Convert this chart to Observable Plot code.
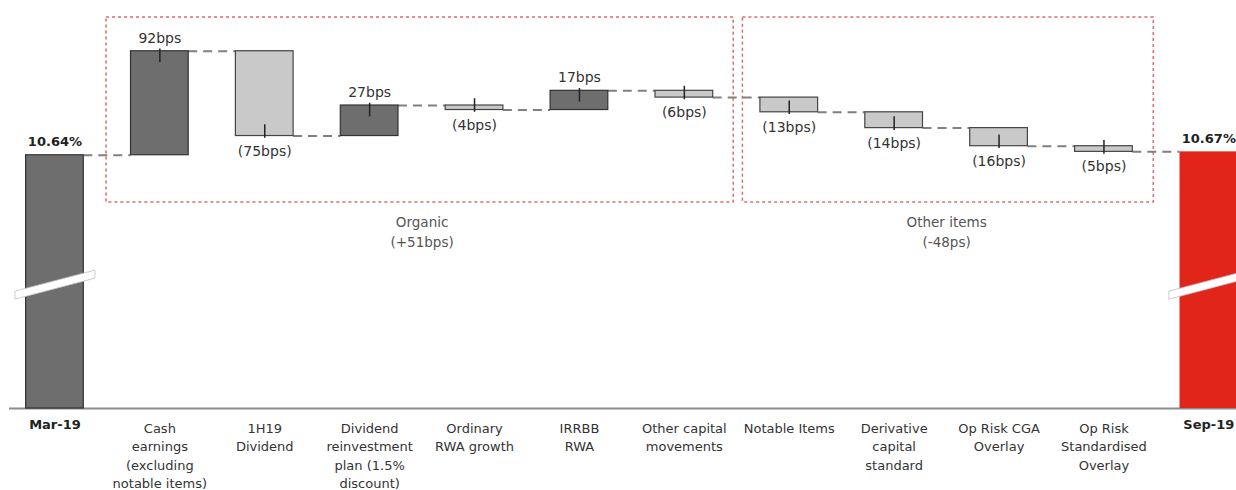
<!DOCTYPE html>
<html>
<head>
<meta charset="utf-8">
<script src="https://cdn.jsdelivr.net/npm/d3@7"></script>
<script src="https://cdn.jsdelivr.net/npm/@observablehq/plot@0.6"></script>
<style>
  body { margin: 0; background: #fff; }
  #chart svg { display: block; }
</style>
</head>
<body>
<div id="chart"></div>
<script>
// ---- data ----
const categories = [
  "Mar-19",
  "Cash\nearnings\n(excluding\nnotable items)",
  "1H19\nDividend",
  "Dividend\nreinvestment\nplan (1.5%\ndiscount)",
  "Ordinary\nRWA growth",
  "IRRBB\nRWA",
  "Other capital\nmovements",
  "Notable Items",
  "Derivative\ncapital\nstandard",
  "Op Risk CGA\nOverlay",
  "Op Risk\nStandardised\nOverlay",
  "Sep-19"
];
const startValue = 10.64;   // %
const endValue = 10.67;     // %
const startLabel = "10.64%";
const endLabel = "10.67%";
const changesBps = [92, -75, 27, -4, 17, -6, -13, -14, -16, -5];
const groupNames = ["Organic", "Other items"];
const groupTotals = ["(+51bps)", "(-48ps)"];
const groupFirst = [1, 7];
const groupLast = [6, 10];
const baseLevel = 8.4;    // broken-axis baseline (%)
const topLevel = 12.0;
const breakLevel = 9.5;   // where the axis-break slash sits

// ---- derived tables ----
const rows = [];
let level = startValue;
rows.push({cat: categories[0], kind: "start", y1: baseLevel, y2: startValue, level: startValue, label: startLabel});
changesBps.forEach((v, i) => {
  const from = level;
  level = Math.round((level + v / 100) * 10000) / 10000;
  rows.push({cat: categories[i + 1], kind: v > 0 ? "up" : "down", v, y1: from, y2: level, level,
             label: v > 0 ? `${v}bps` : `(${-v}bps)`});
});
rows.push({cat: categories[categories.length - 1], kind: "end", y1: baseLevel, y2: endValue, level: endValue, label: endLabel});
const changes = rows.filter(d => d.kind === "up" || d.kind === "down");
const totals = rows.filter(d => d.kind === "start" || d.kind === "end");
const connectors = rows.slice(0, -1).map((r, i) => ({from: r.cat, to: rows[i + 1].cat, y: r.level}));
const groups = groupNames.map((name, i) => ({name, total: groupTotals[i], first: groupFirst[i], last: groupLast[i]}));

// ---- layout ----
const W = 1236, H = 490;
const step = 104.9;
const r0 = 2;
const padIn = 0.45, padOut = 0.225;
const bw = step * (1 - padIn);
const boxInsets = [[-24.5, -20.5], [-17.5, -21]];  // [left, right] px for each group box

const slash = {
  draw(ctx) {
    ctx.moveTo(-40, 7);
    ctx.lineTo(40, -14);
    ctx.lineTo(40, -6);
    ctx.lineTo(-40, 15);
    ctx.closePath();
  }
};

const groupBoxes = groups.map((g, i) => Plot.rect([g], {
  x1: d => categories[d.first], x2: d => categories[d.last],
  insetTop: 16, insetBottom: 206, insetLeft: boxInsets[i][0], insetRight: boxInsets[i][1],
  fill: "none", stroke: "#e06a6a", strokeWidth: 1.5, strokeDasharray: "3,3"
}));

const groupMarks = groups.map(g => {
  const mid = (g.first + g.last) / 2;
  const anchor = Math.floor(mid);
  return Plot.text([g], {
    x: () => categories[anchor],
    dx: (mid - anchor) * step,
    frameAnchor: "top",
    dy: 211,
    lineAnchor: "top",
    text: d => d.name + "\n" + d.total,
    fontSize: 13.5,
    lineHeight: 1.48,
    fill: "#555"
  });
});

const chart = Plot.plot({
  width: W,
  height: H,
  marginTop: 1,
  marginBottom: 82,
  marginLeft: 9,
  marginRight: 0,
  style: {fontFamily: "DejaVu Sans", fontSize: "13px", color: "#333", background: "#fff"},
  x: {type: "band", domain: categories, range: [r0, r0 + categories.length * step], paddingInner: padIn, paddingOuter: padOut, round: false},
  y: {domain: [baseLevel, topLevel], axis: null},
  marks: [
    ...groupBoxes,
    Plot.ruleY([baseLevel], {stroke: "#8c8c8c", strokeWidth: 2}),
    Plot.ruleY(connectors, {
      x1: "from", x2: "to", y: "y", insetLeft: bw, insetRight: bw,
      stroke: "#808080", strokeWidth: 2, strokeDasharray: "9,6"
    }),
    Plot.barY(rows.filter(d => d.kind === "start" || d.kind === "up"), {
      x: "cat", y1: "y1", y2: "y2", fill: "#6e6e6e", stroke: "#333", strokeWidth: 1.2
    }),
    Plot.barY(rows.filter(d => d.kind === "down"), {
      x: "cat", y1: "y1", y2: "y2", fill: "#c9c9c9", stroke: "#444", strokeWidth: 1.2
    }),
    Plot.barY(rows.filter(d => d.kind === "end"), {
      x: "cat", y1: "y1", y2: "y2", fill: "#e1251b"
    }),
    Plot.dot(totals, {x: "cat", y: () => breakLevel, symbol: slash, r: 10, fill: "#fff", stroke: "#c0c0c0", strokeWidth: 0.8}),
    Plot.ruleX(changes, {
      x: "cat",
      y1: d => d.y2 + Math.sign(d.v) * 0.02,
      y2: d => d.y2 - Math.sign(d.v) * 0.1,
      stroke: "#222", strokeWidth: 1.5
    }),
    Plot.text(changes.filter(d => d.v > 0), {x: "cat", y: "y2", text: "label", dy: -13, fontSize: 14, fill: "#333"}),
    Plot.text(changes.filter(d => d.v < 0), {x: "cat", y: "y2", text: "label", dy: 15, fontSize: 14, fill: "#333"}),
    Plot.text(totals, {x: "cat", y: "y2", text: "label", dy: -13, fontSize: 13, fontWeight: "bold", fill: "#222"}),
    ...groupMarks,
    Plot.axisX(categories.filter(c => c !== categories[0] && c !== categories[categories.length - 1]), {
      tickSize: 0, tickPadding: 11, fontSize: 13, lineHeight: 1.42, fill: "#333", label: null
    }),
    Plot.axisX([categories[0], categories[categories.length - 1]], {
      tickSize: 0, tickPadding: 11, fontSize: 13, fontWeight: "bold", fill: "#222", label: null
    })
  ]
});

document.getElementById("chart").appendChild(chart);
</script>
</body>
</html>
